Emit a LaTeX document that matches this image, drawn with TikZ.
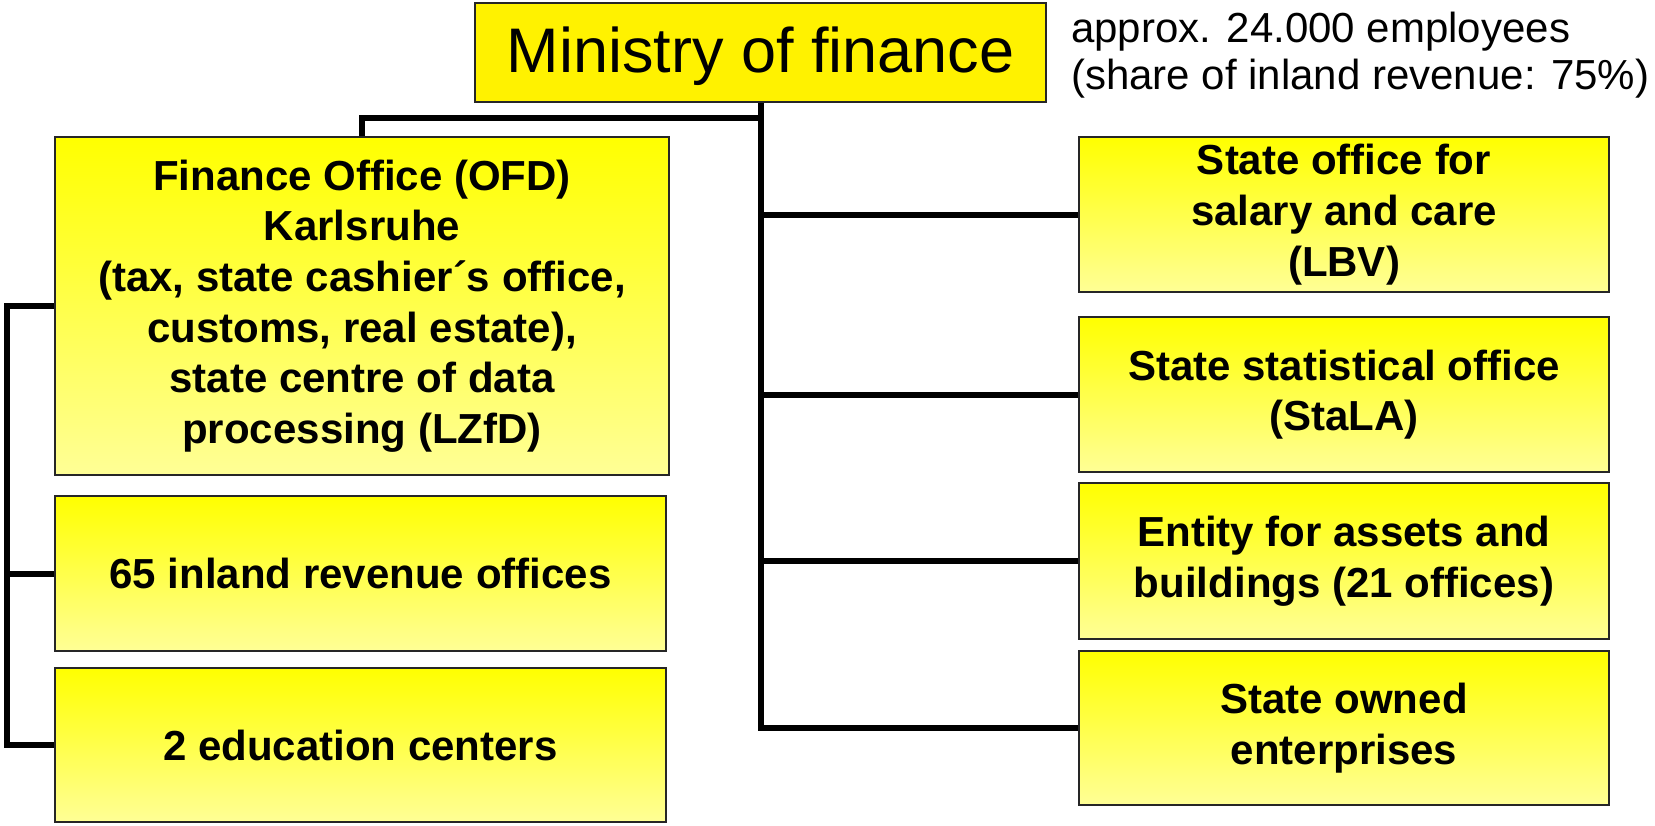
\documentclass[tikz,border=0pt]{standalone}
\usepackage{fontspec}
\setmainfont{Liberation Sans}
\begin{document}
\begin{tikzpicture}[x=1pt,y=-1pt,
  basebox/.style={draw=black!85,line width=1.5pt,align=center,inner sep=0pt},
  sbox/.style={basebox,top color=yellow,bottom color={rgb,255:red,255;green,255;blue,150},
    font=\fontsize{42}{50.7}\selectfont\bfseries},
  conn/.style={line width=6pt,black,line join=miter}]
\useasboundingbox (0,0) rectangle (1655,825);
% nodes
\node[basebox,fill=yellow,minimum width=571pt,minimum height=99pt,
  font=\fontsize{63}{70}\selectfont] (min) at (760.5,52.5) {\raisebox{-4pt}[\height][\depth]{Ministry of finance}};
\node[anchor=west,align=left,inner sep=0pt,font=\fontsize{42}{47}\selectfont] (note) at (1071,55.5)
  {approx. 24.000 employees\\(share of inland revenue: 75\%)};
\node[sbox,minimum width=614pt,minimum height=338pt] (ofd) at (362,306)
  {Finance Office (OFD)\\Karlsruhe\\(tax, state cashier´s office,\\customs, real estate),\\state centre of data\\processing (LZfD)};
\node[sbox,minimum width=611pt,minimum height=155pt] (rev) at (360.5,573.5) {65 inland revenue offices};
\node[sbox,minimum width=611pt,minimum height=154pt] (edu) at (360.5,745) {2 education centers};
\node[sbox,minimum width=530pt,minimum height=155pt] (lbv) at (1344,214.5) {State office for\\salary and care\\(LBV)};
\node[sbox,minimum width=530pt,minimum height=155pt] (stala) at (1344,394.5) {State statistical office\\(StaLA)};
\node[sbox,minimum width=530pt,minimum height=156pt] (ent) at (1344,561) {Entity for assets and\\buildings (21 offices)};
\node[sbox,minimum width=530pt,minimum height=154pt] (own) at (1344,728) {State owned\\enterprises};
% helper coordinates
\coordinate (tj) at (0,118);
\coordinate (bus) at (6.5,0);
% connectors
\draw[conn] (min.south) -- (min.south |- own.west) -- (own.west);
\foreach \n in {lbv,stala,ent} { \draw[conn] (min.south |- \n.west) -- (\n.west); }
\draw[conn] (min.south |- tj) -| (ofd.north);
\draw[conn] (ofd.west) -- (bus |- ofd.west) -- (bus |- edu.west) -- (edu.west);
\draw[conn] (bus |- rev.west) -- (rev.west);
\end{tikzpicture}
\end{document}
